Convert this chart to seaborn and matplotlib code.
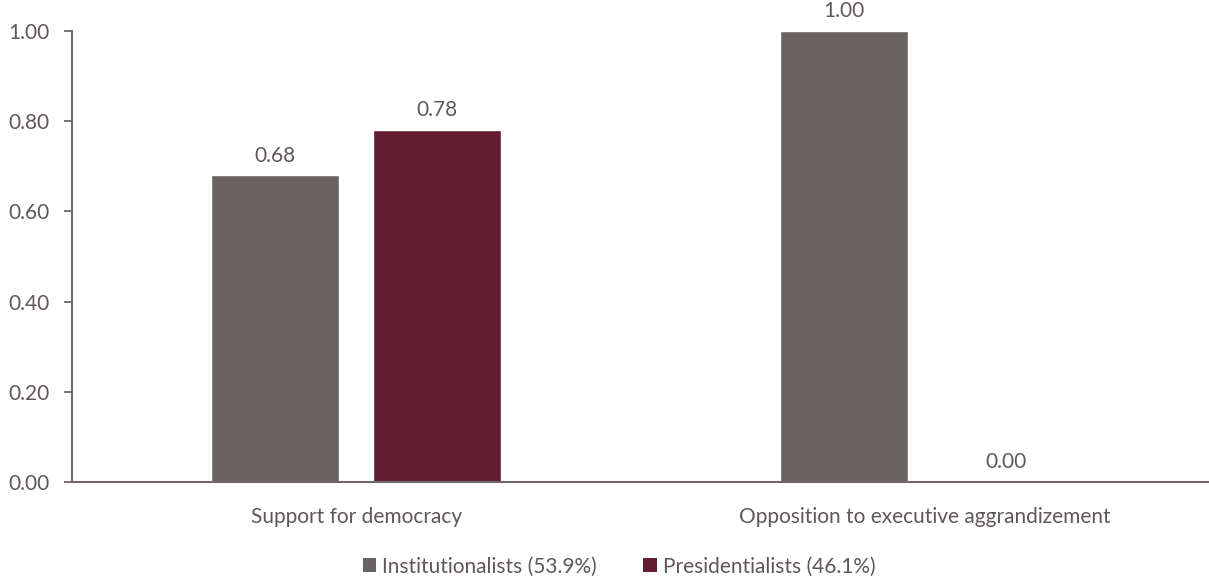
import matplotlib
matplotlib.use("Agg")
import matplotlib.pyplot as plt
import seaborn as sns
import pandas as pd
from matplotlib.patches import Patch

categories = ["Support for democracy", "Opposition to executive aggrandizement"]
series_names = ["Institutionalists (53.9%)", "Presidentialists (46.1%)"]
institutionalists = [0.68, 1.00]
presidentialists = [0.78, 0.00]
y_ticks = [0.0, 0.2, 0.4, 0.6, 0.8, 1.0]

colors = ["#6B6361", "#621D30"]
text_color = "#5F5857"
axis_color = "#6F6866"

sns.set_theme(style="white")
plt.rcParams["font.family"] = ["Lato", "DejaVu Sans"]

df = pd.DataFrame({
    "category": categories * 2,
    "group": [series_names[0]] * 2 + [series_names[1]] * 2,
    "value": institutionalists + presidentialists,
})

fig = plt.figure(figsize=(12.09, 5.78), dpi=100)
ax = fig.add_axes([0.0596, 0.166, 0.9404, 0.7804])

sns.barplot(data=df, x="category", y="value", hue="group", order=categories,
            hue_order=series_names, palette=colors, width=0.57, gap=0.21,
            saturation=1, ax=ax, legend=False)

for cont in ax.containers:
    ax.bar_label(cont, fmt="%.2f", padding=7, fontsize=15, color=text_color)

ax.set_ylim(0, 1.0)
ax.set_xlim(-0.5, 1.5)
ax.set_yticks(y_ticks)
ax.set_yticklabels([f"{v:.2f}" for v in y_ticks])
ax.set_xlabel("")
ax.set_ylabel("")
for s in ["top", "right"]:
    ax.spines[s].set_visible(False)
for s in ["left", "bottom"]:
    ax.spines[s].set_color(axis_color)
    ax.spines[s].set_linewidth(1.5)
ax.spines["left"].set_bounds(0, 1.0)
ax.tick_params(axis="y", direction="out", length=6, width=1.3, color=axis_color,
               labelsize=15, labelcolor=text_color, pad=10, left=True)
ax.tick_params(axis="x", length=0, labelsize=15, labelcolor=text_color, pad=18)

handles = [Patch(facecolor=c, edgecolor="none") for c in colors]
fig.legend(handles, series_names, loc="center", bbox_to_anchor=(0.512, 0.02),
           ncol=2, frameon=False, fontsize=15, handlelength=0.65, handleheight=0.65,
           handletextpad=0.3, columnspacing=2.2, labelcolor=text_color)

fig.savefig("out.png", dpi=100, facecolor="white")
